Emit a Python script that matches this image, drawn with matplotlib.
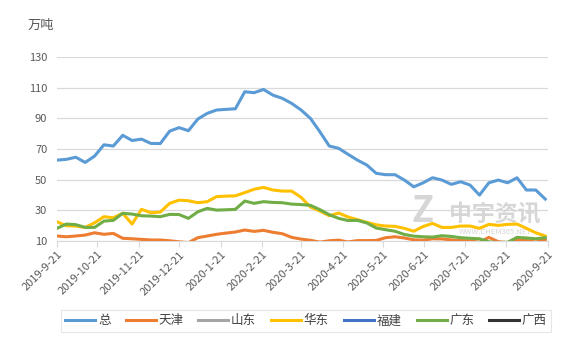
import pandas as pd
import matplotlib.pyplot as plt

plt.rcParams['font.family'] = ['Noto Sans CJK SC', 'DejaVu Sans']

# dados semanais (万吨)
datas = pd.date_range('2019-09-21', periods=53, freq='7D')

total = [62.8, 63.3, 64.7, 61.3, 65.4, 72.8, 72.0, 79.0, 75.6, 76.5, 73.7, 73.6, 81.7,
         84.0, 82.0, 89.6, 93.3, 95.5, 95.9, 96.3, 107.4, 106.8, 108.9, 105.2, 103.1, 99.8,
         95.5, 90.0, 81.3, 72.0, 70.5, 66.6, 62.8, 59.6, 54.2, 53.3, 53.3, 49.8, 45.4,
         48.0, 51.3, 49.8, 47.0, 48.7, 46.5, 40.0, 48.0, 49.8, 48.0, 51.3, 43.3, 43.3, 37.4]
tianjin = [13.3, 12.8, 13.3, 13.9, 15.4, 14.4, 15.0, 11.8, 11.5, 11.1, 10.7, 10.7, 10.2,
           9.5, 9.0, 12.2, 13.3, 14.4, 15.2, 15.9, 17.2, 16.3, 17.0, 15.7, 14.8, 12.4,
           11.3, 10.5, 9.3, 10.2, 10.6, 9.4, 10.3, 10.3, 10.4, 12.2, 12.8, 12.0, 10.8,
           10.6, 11.5, 11.4, 10.8, 10.3, 10.2, 9.2, 12.4, 9.6, 9.0, 10.8, 10.6, 9.3, 11.0]
shandong = [5.0] * 53
huadong = [22.6, 20.0, 19.8, 18.9, 21.9, 25.9, 25.2, 28.1, 21.1, 30.7, 28.5, 28.9, 34.6,
           36.7, 36.3, 35.0, 35.7, 39.0, 39.3, 39.5, 41.6, 43.8, 45.0, 43.3, 42.6, 42.6,
           38.5, 32.2, 29.6, 26.5, 28.3, 25.7, 24.0, 22.2, 20.6, 19.8, 19.6, 18.3, 16.4,
           19.5, 21.5, 18.9, 18.9, 19.8, 19.8, 18.3, 20.9, 20.2, 20.9, 21.1, 18.3, 15.4, 13.3]
fujian = [3.0] * 53
guangdong = [18.3, 21.1, 20.7, 18.9, 18.9, 23.0, 23.5, 28.1, 27.6, 26.5, 26.3, 25.9, 27.4,
             27.3, 24.8, 29.1, 31.3, 30.2, 30.4, 30.7, 36.1, 34.6, 35.7, 35.2, 35.0, 34.1,
             33.8, 33.3, 30.5, 27.2, 24.8, 23.4, 23.5, 21.8, 18.5, 17.4, 16.4, 14.3, 13.2,
             12.8, 12.6, 13.5, 13.0, 12.2, 11.8, 11.5, 9.5, 9.0, 9.2, 12.4, 12.0, 11.5, 12.2]
guangxi = [1.5] * 53

series = [('总', total, '#5b9bd5'), ('天津', tianjin, '#ed7d31'), ('山东', shandong, '#a5a5a5'),
          ('华东', huadong, '#ffc000'), ('福建', fujian, '#4472c4'), ('广东', guangdong, '#70ad47'),
          ('广西', guangxi, '#333333')]

tick_labels = ['2019-9-21', '2019-10-21', '2019-11-21', '2019-12-21', '2020-1-21', '2020-2-21',
               '2020-3-21', '2020-4-21', '2020-5-21', '2020-6-21', '2020-7-21', '2020-8-21',
               '2020-9-21']
ticks = pd.to_datetime(tick_labels, format='%Y-%m-%d')

fig = plt.figure(figsize=(5.66, 3.40), dpi=100)
ax = fig.add_axes([0.1007, 0.291, 0.8673, 0.541])

for nome, vals, cor in series:
    ax.plot(datas, vals, color=cor, lw=2.2, label=nome, solid_joinstyle='round', zorder=3)

ax.set_ylim(10, 130)
ax.set_yticks(range(10, 131, 20))
ax.set_xlim(ticks[0], ticks[-1])
ax.set_xticks(ticks)
ax.set_xticklabels(tick_labels, rotation=45, ha='right', va='top', rotation_mode='anchor')
ax.grid(axis='y', color='#d9d9d9', lw=0.9)
ax.set_axisbelow(True)
for s in ['top', 'right', 'left']:
    ax.spines[s].set_visible(False)
ax.spines['bottom'].set_color('#d9d9d9')
ax.tick_params(axis='y', length=0, labelsize=8, colors='#595959', pad=7)
ax.tick_params(axis='x', length=4, color='#d9d9d9', labelsize=8, labelcolor='#595959', pad=2)

fig.text(0.049, 0.926, '万吨', fontsize=9.5, color='#595959', va='center')

# marca d'água
ax.text(0.745, 0.16, 'Z', transform=ax.transAxes, fontsize=26, fontweight='bold',
        style='italic', color='#d6d6d6', ha='center', va='center', zorder=1)
ax.text(0.892, 0.145, '中宇资讯', transform=ax.transAxes, fontsize=16.5, fontweight='bold',
        color='#d6d6d6', ha='center', va='center', zorder=1)
ax.text(0.892, 0.05, 'WWW.CHEM365.NET', transform=ax.transAxes, fontsize=5.5,
        color='#d6d6d6', ha='center', va='center', zorder=1)

leg = fig.legend(loc='center', bbox_to_anchor=(0.541, 0.056), ncol=7, frameon=True,
                 fontsize=9, handlelength=2.4, columnspacing=1.22, handletextpad=0.2,
                 borderpad=0.35, fancybox=False)
leg.get_frame().set_edgecolor('#e0e0e0')
leg.get_frame().set_linewidth(0.8)
for t in leg.get_texts():
    t.set_color('#404040')

fig.savefig('out.png', dpi=100)
